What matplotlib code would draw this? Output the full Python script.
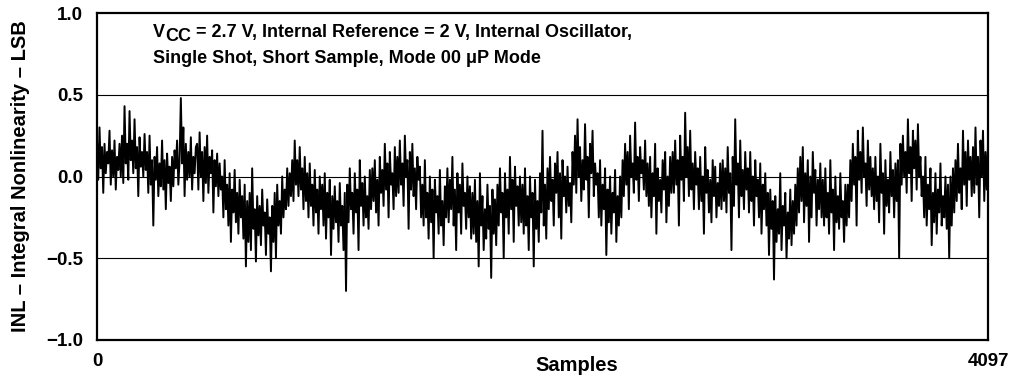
import numpy as np
import matplotlib
matplotlib.use('Agg')
import matplotlib.pyplot as plt

plt.rcParams['font.family'] = ['Liberation Sans', 'DejaVu Sans']
plt.rcParams['font.weight'] = 'bold'

# INL readings (LSB) left to right
inl = [
    0.22, -0.02, 0.30, 0.05, 0.18, -0.10, 0.20, 0.02, 0.15, 0.08, 0.28, -0.05, 0.16, 0.00, 0.22, -0.08, 0.12, 0.04, 0.20, 0.00,
    0.25, -0.04, 0.43, 0.08, 0.20, -0.02, 0.40, 0.10, 0.22, 0.02, 0.35, 0.05, 0.18, -0.12, 0.24, 0.06, 0.15, 0.00, 0.26, 0.04,
    0.15, -0.10, 0.25, -0.05, 0.10, -0.30, 0.12, -0.02, 0.18, -0.12, 0.08, -0.06, 0.22, -0.08, 0.10, -0.20, 0.14, -0.04, 0.06, -0.15,
    0.12, -0.06, 0.16, 0.05, 0.22, -0.05, 0.10, 0.48, 0.08, 0.30, -0.12, 0.20, -0.02, 0.15, 0.00, 0.24, -0.08, 0.12, 0.02, 0.18,
    0.20, -0.08, 0.27, 0.00, 0.15, -0.15, 0.18, -0.04, 0.25, -0.10, 0.12, 0.02, 0.16, -0.22, 0.10, -0.06, 0.14, -0.12, 0.08, -0.08,
    0.00, -0.25, 0.10, -0.20, -0.05, -0.30, 0.02, -0.40, -0.08, -0.22, 0.04, -0.28, -0.10, -0.35, -0.02, -0.25, -0.12, -0.38, -0.05, -0.55,
    -0.15, -0.40, -0.10, -0.45, 0.05, -0.32, -0.20, -0.52, -0.12, -0.36, -0.18, -0.42, -0.08, -0.30, -0.22, -0.48, -0.14, -0.35, -0.25, -0.58,
    -0.18, -0.40, -0.10, -0.50, -0.05, -0.30, -0.15, -0.35, 0.00, -0.25, -0.08, -0.20, 0.05, -0.18, 0.02, -0.12, 0.10, -0.15, 0.22, -0.05,
    0.10, -0.12, 0.18, -0.08, 0.05, -0.20, 0.12, -0.15, 0.02, -0.25, 0.08, -0.18, -0.05, -0.30, 0.04, -0.22, -0.08, -0.35, 0.00, -0.20,
    -0.05, -0.30, 0.02, -0.38, -0.10, -0.25, -0.02, -0.48, -0.12, -0.32, -0.06, -0.28, -0.15, -0.40, -0.04, -0.30, -0.18, -0.45, -0.10, -0.70,
    -0.05, -0.28, 0.05, -0.20, -0.10, -0.35, 0.02, -0.22, -0.08, -0.45, 0.10, -0.18, -0.04, -0.30, 0.00, -0.25, -0.12, -0.32, 0.04, -0.20,
    0.05, -0.15, 0.10, -0.22, -0.02, -0.30, 0.12, -0.10, 0.04, -0.18, 0.20, -0.08, 0.08, -0.25, 0.15, -0.05, 0.02, -0.20, 0.18, -0.12,
    0.12, -0.10, 0.22, -0.05, 0.08, -0.18, 0.25, 0.00, 0.10, -0.32, 0.15, -0.08, 0.20, -0.12, 0.05, -0.20, 0.12, -0.02, 0.06, -0.25,
    -0.05, -0.30, 0.10, -0.25, -0.10, -0.38, 0.00, -0.28, -0.08, -0.50, -0.02, -0.22, -0.12, -0.35, 0.04, -0.30, -0.15, -0.42, -0.06, -0.25,
    0.05, -0.28, -0.02, -0.20, 0.12, -0.30, -0.08, -0.45, 0.02, -0.22, -0.05, -0.35, 0.08, -0.18, -0.10, -0.32, 0.00, -0.25, -0.06, -0.38,
    -0.10, -0.35, -0.02, -0.40, -0.15, -0.55, 0.02, -0.30, -0.12, -0.45, -0.20, -0.38, -0.05, -0.32, -0.18, -0.62, -0.08, -0.35, -0.14, -0.42,
    -0.05, -0.30, 0.05, -0.22, -0.10, -0.50, 0.02, -0.25, -0.08, -0.35, 0.12, -0.20, -0.02, -0.40, 0.06, -0.18, -0.06, -0.30, 0.00, -0.28,
    -0.05, -0.35, 0.05, -0.30, -0.12, -0.45, 0.00, -0.25, -0.10, -0.55, -0.02, -0.32, -0.15, -0.40, 0.02, -0.22, 0.28, -0.30, -0.05, -0.38,
    0.05, -0.20, 0.12, -0.15, -0.02, -0.30, 0.08, -0.10, 0.15, -0.25, 0.02, -0.38, 0.10, -0.12, 0.00, -0.22, 0.06, -0.18, -0.04, -0.28,
    0.15, -0.05, 0.25, -0.10, 0.35, 0.00, 0.18, -0.15, 0.10, -0.08, 0.32, -0.02, 0.12, -0.25, 0.20, 0.02, 0.28, -0.12, 0.08, -0.05,
    0.02, -0.25, 0.10, -0.30, -0.05, -0.20, 0.05, -0.48, -0.08, -0.28, 0.00, -0.35, -0.10, -0.22, 0.04, -0.40, -0.12, -0.30, 0.00, -0.25,
    0.10, -0.12, 0.20, -0.05, 0.15, -0.20, 0.25, 0.00, 0.08, -0.10, 0.33, -0.02, 0.12, -0.15, 0.18, 0.02, 0.10, -0.08, 0.22, -0.12,
    0.08, -0.18, 0.12, -0.25, 0.02, -0.12, 0.20, -0.35, 0.05, -0.15, -0.02, -0.22, 0.10, -0.08, 0.15, -0.28, 0.00, -0.18, 0.12, -0.10,
    0.15, -0.10, 0.22, -0.05, 0.10, -0.30, 0.25, -0.02, 0.12, -0.15, 0.39, 0.00, 0.18, -0.12, 0.28, -0.08, 0.08, -0.20, 0.15, -0.05,
    0.05, -0.20, 0.12, -0.15, 0.00, -0.35, 0.18, -0.10, 0.04, -0.22, -0.02, -0.28, 0.10, -0.12, 0.06, -0.25, -0.04, -0.18, 0.08, -0.20,
    0.10, -0.15, 0.05, -0.22, 0.18, -0.10, 0.02, -0.45, 0.12, -0.18, 0.35, -0.05, 0.08, -0.25, 0.22, -0.12, 0.04, -0.20, 0.15, -0.08,
    0.05, -0.22, 0.15, -0.15, 0.00, -0.30, 0.10, -0.12, -0.02, -0.25, 0.08, -0.35, -0.05, -0.20, 0.02, -0.30, -0.10, -0.48, -0.08, -0.32,
    -0.15, -0.63, -0.12, -0.40, -0.20, -0.35, 0.02, -0.45, -0.18, -0.30, -0.10, -0.50, -0.22, -0.38, -0.08, -0.42, -0.15, -0.35, -0.05, -0.30,
    0.05, -0.22, 0.12, -0.15, 0.18, -0.28, 0.02, -0.18, 0.10, -0.40, 0.00, -0.25, 0.15, -0.10, 0.04, -0.30, -0.02, -0.20, 0.08, -0.25,
    -0.02, -0.30, 0.05, -0.25, -0.10, -0.35, 0.10, -0.22, -0.08, -0.45, 0.00, -0.28, -0.12, -0.32, 0.02, -0.25, -0.15, -0.40, -0.05, -0.30,
    -0.05, -0.25, 0.10, -0.15, 0.20, -0.05, 0.12, -0.30, 0.28, -0.02, 0.15, -0.10, 0.30, 0.00, 0.08, -0.18, 0.22, -0.08, 0.12, -0.12,
    0.05, -0.20, 0.12, -0.15, 0.00, -0.28, 0.20, -0.10, 0.02, -0.35, 0.10, -0.18, -0.02, -0.22, 0.15, -0.12, 0.04, -0.25, 0.08, -0.15,
    0.10, -0.50, 0.20, -0.05, 0.25, 0.00, 0.15, -0.10, 0.35, 0.02, 0.18, -0.15, 0.28, 0.05, 0.22, -0.08, 0.32, 0.00, 0.12, -0.12,
    0.00, -0.25, 0.12, -0.30, -0.05, -0.20, 0.05, -0.42, -0.10, -0.28, 0.02, -0.35, -0.08, -0.22, 0.08, -0.30, -0.12, -0.25, 0.00, -0.32,
    -0.05, -0.50, 0.00, -0.30, 0.05, -0.22, 0.10, -0.15, 0.20, -0.10, 0.05, -0.20, 0.28, -0.05, 0.15, -0.18, 0.22, -0.02, 0.12, -0.12,
    0.18, -0.10, 0.30, -0.05, 0.12, -0.25, 0.22, 0.00, 0.28, -0.15, 0.15, -0.08, 0.20,
]
n_samples = 4097
y_ticks = [-1.0, -0.5, 0.0, 0.5, 1.0]
y_labels = ['\u22121.0', '\u22120.5', '0.0', '0.5', '1.0']
x_ticks = [0, 4097]

samples = np.linspace(0, n_samples, len(inl))

fig = plt.figure(figsize=(10.13, 3.84), dpi=100)
ax = fig.add_axes([97 / 1013, 1 - 340 / 384, 891 / 1013, 327 / 384])

for level in [-0.5, 0.0, 0.5]:
    ax.axhline(level, color='black', linewidth=0.8, zorder=1)
ax.plot(samples, inl, color='black', linewidth=1.4, zorder=2)

ax.set_xlim(0, n_samples)
ax.set_ylim(-1.0, 1.0)
ax.set_yticks(y_ticks)
ax.set_yticklabels(y_labels)
ax.set_xticks(x_ticks)
ax.tick_params(length=0, labelsize=13.5)
ax.tick_params(axis='y', pad=10)
ax.tick_params(axis='x', pad=9)
for s in ax.spines.values():
    s.set_linewidth(1.6)

ax.set_xlabel('Samples', fontsize=14.5, fontweight='bold')
ax.xaxis.set_label_coords(0.538, -0.05)
ax.set_ylabel('INL \u2013 Integral Nonlinearity \u2013 LSB', fontsize=14.5, fontweight='bold')
ax.yaxis.set_label_coords(-0.075, 0.5)

# condition note, with the CC subscript dropped below the baseline
fs = 13
t1 = ax.text(0.063, 0.927, 'V', transform=ax.transAxes, fontsize=fs, fontweight='bold', va='baseline')
t2 = ax.annotate('CC', xy=(1, 0), xycoords=t1, xytext=(0, -3), textcoords='offset points',
                 fontsize=fs, fontweight='bold', va='bottom')
ax.annotate(' = 2.7 V, Internal Reference = 2 V, Internal Oscillator,', xy=(1, 0), xycoords=t2,
            xytext=(0, 3), textcoords='offset points', fontsize=fs, fontweight='bold', va='bottom')
ax.text(0.063, 0.848, 'Single Shot, Short Sample, Mode 00 \u03bcP Mode', transform=ax.transAxes,
        fontsize=fs, fontweight='bold', va='baseline')

fig.savefig('out.png', dpi=100)
